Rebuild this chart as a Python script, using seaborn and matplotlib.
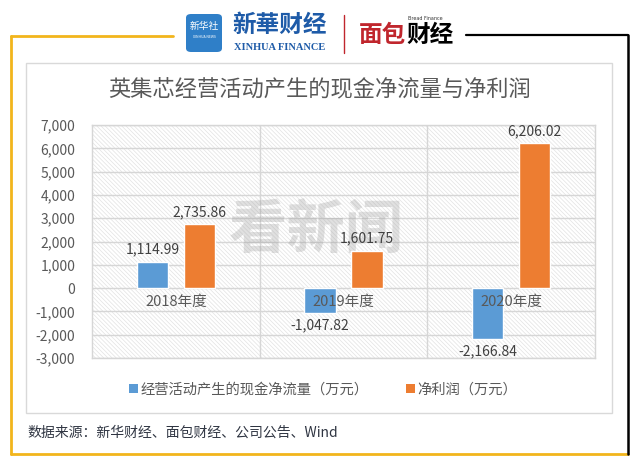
import matplotlib
matplotlib.use('Agg')
import matplotlib.pyplot as plt
import seaborn as sns
import pandas as pd
from matplotlib.lines import Line2D
from matplotlib.patches import Patch, Rectangle, FancyBboxPatch

# data
years = ['2018年度', '2019年度', '2020年度']
series = ['经营活动产生的现金净流量（万元）', '净利润（万元）']
cash_flow = [1114.99, -1047.82, -2166.84]
net_profit = [2735.86, 1601.75, 6206.02]
colors = ['#5B9BD5', '#ED7D31']
y_ticks = list(range(-3000, 7001, 1000))

df = pd.DataFrame({
    'year': years * 2,
    'series': [series[0]] * 3 + [series[1]] * 3,
    'value': cash_flow + net_profit,
})

sns.set_style('white')
plt.rcParams['font.family'] = ['Noto Sans CJK SC', 'DejaVu Sans']
plt.rcParams['hatch.linewidth'] = 0.5

W, H = 640, 466
fig = plt.figure(figsize=(6.4, 4.66), dpi=100)
fig.patch.set_facecolor('white')


def fx(x):
    return x / W


def fy(y):
    return 1 - y / H


# outer frame: gold left/bottom/top-left, black top-right/right
gold = '#F2B51C'
for xs, ys, c, lw in [
    ([11, 11], [36, 454], gold, 2.0),
    ([11, 173], [36, 36], gold, 2.0),
    ([11, 628], [454, 454], gold, 2.0),
    ([466, 628], [35, 35], 'black', 1.6),
    ([628, 628], [35, 454], 'black', 1.8),
]:
    fig.add_artist(Line2D([fx(v) for v in xs], [fy(v) for v in ys], color=c, lw=lw))

# inner light panel
fig.add_artist(Rectangle((fx(26), fy(413)), fx(612 - 26), (413 - 63) / H,
                         transform=fig.transFigure, facecolor='none',
                         edgecolor='#d9d9d9', lw=1.0))

# logo stand-ins
fig.add_artist(FancyBboxPatch((fx(186), fy(52)), fx(36), 38 / H,
                              boxstyle='round,pad=0,rounding_size=0.008',
                              transform=fig.transFigure, facecolor='#2F7FC8',
                              edgecolor='none'))
fig.text(fx(204), fy(26), '新华社', color='white', fontsize=7, ha='center', va='center')
fig.text(fx(204), fy(37), 'XINHUA NEWS', color='white', fontsize=2.5, ha='center', va='center')
fig.text(fx(280), fy(25), '新華财经', color='#1E5BA8', fontsize=17, fontweight='bold',
         ha='center', va='center')
fig.text(fx(280), fy(47), 'XINHUA FINANCE', color='#1E5BA8', fontsize=7.5,
         fontweight='bold', family='Liberation Serif', ha='center', va='center')
fig.add_artist(Line2D([fx(344), fx(344)], [fy(15), fy(53)], color='#C0262D', lw=1.0))
fig.text(fx(382), fy(35), '面包', color='#C0262D', fontsize=17, fontweight='heavy',
         ha='center', va='center')
fig.text(fx(430), fy(35), '财经', color='black', fontsize=17, fontweight='heavy',
         ha='center', va='center')
fig.text(fx(425), fy(18), 'Bread Finance', color='#333333', fontsize=3.5,
         family='DejaVu Sans', ha='center', va='center')

# title
fig.text(0.5, fy(90), '英集芯经营活动产生的现金净流量与净利润', color='#595959',
         fontsize=16, ha='center', va='center')

# plot area
ax = fig.add_axes([fx(92), fy(358), fx(595 - 92), (358 - 125) / H])
ax.set_facecolor('white')
ax.add_patch(Rectangle((0, 0), 1, 1, transform=ax.transAxes, facecolor='white',
                       edgecolor='#e2e2e2', hatch='\\' * 8, lw=0, zorder=0))

sns.barplot(data=df, x='year', y='value', hue='series', hue_order=series,
            order=years, palette=colors, saturation=1, width=0.56, gap=0.33,
            legend=False, ax=ax, zorder=3)

ax.set_ylim(-3000, 7000)
ax.set_xlim(-0.5, 2.5)
ax.set_yticks(y_ticks)
ax.set_yticklabels([f'{v:,}' for v in y_ticks])
ax.set_xticks([])
ax.set_xlabel('')
ax.set_ylabel('')
ax.set_xticks([0.5, 1.5], minor=True)
ax.grid(True, axis='y', color='#d6d6d6', lw=1.0, zorder=1)
ax.grid(True, axis='x', which='minor', color='#d6d6d6', lw=1.0, zorder=1)
ax.set_axisbelow(True)
ax.tick_params(axis='y', length=0, pad=12, labelsize=10, labelcolor='#595959')
ax.tick_params(axis='x', which='both', length=0)
for s in ax.spines.values():
    s.set_color('#d6d6d6')
    s.set_linewidth(1.0)

for cont in ax.containers:
    ax.bar_label(cont, labels=[f'{v:,.2f}' for v in cont.datavalues],
                 padding=4, fontsize=10, color='#404040')

for i, yr in enumerate(years):
    ax.annotate(yr, (i, 0), xytext=(0, -5), textcoords='offset points',
                ha='center', va='top', fontsize=10.5, color='#595959', zorder=5)

# watermark
ax.text(0.445, 0.545, '看新闻', transform=ax.transAxes, fontsize=42,
        fontweight='heavy', color='#9a9a9a', alpha=0.3, ha='center',
        va='center', zorder=2)

handles = [Patch(facecolor=c, edgecolor='none') for c in colors]
fig.legend(handles, series, loc='center', bbox_to_anchor=(0.505, fy(390)),
           ncol=2, frameon=False, fontsize=10.3, labelcolor='#595959',
           handlelength=0.6, handleheight=0.6, handletextpad=0.2,
           columnspacing=2.6)

fig.text(fx(27), fy(433), '数据来源：新华财经、面包财经、公司公告、Wind',
         color='#2F3542', fontsize=10, ha='left', va='center')

fig.savefig('out.png', dpi=100)
